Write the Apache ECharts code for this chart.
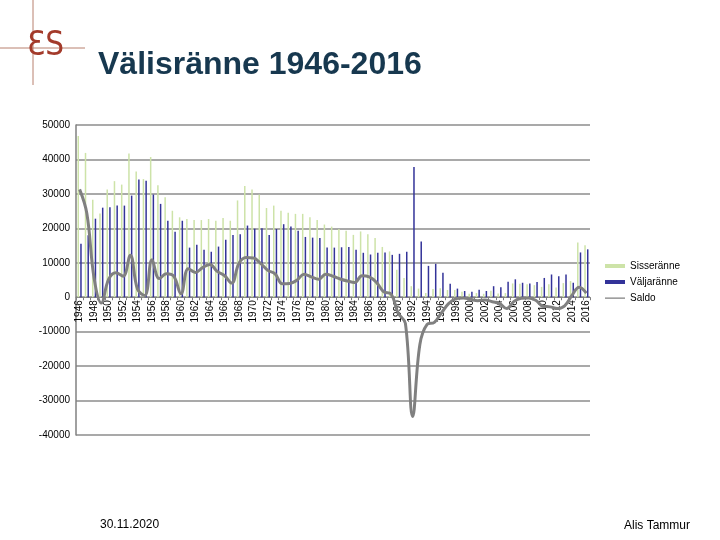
<!DOCTYPE html>
<html>
<head>
<meta charset="utf-8">
<script src="https://cdn.jsdelivr.net/npm/echarts@6/dist/echarts.min.js"></script>
<style>
    html, body { margin: 0; padding: 0; background: #fff; }
    #chart { width: 720px; height: 540px; }
</style>
</head>
<body>
<div id="chart"></div>
<script>
    // aastad
    var years = ['1946', '1947', '1948', '1949', '1950', '1951', '1952', '1953', '1954', '1955',
        '1956', '1957', '1958', '1959', '1960', '1961', '1962', '1963', '1964', '1965',
        '1966', '1967', '1968', '1969', '1970', '1971', '1972', '1973', '1974', '1975',
        '1976', '1977', '1978', '1979', '1980', '1981', '1982', '1983', '1984', '1985',
        '1986', '1987', '1988', '1989', '1990', '1991', '1992', '1993', '1994', '1995',
        '1996', '1997', '1998', '1999', '2000', '2001', '2002', '2003', '2004', '2005',
        '2006', '2007', '2008', '2009', '2010', '2011', '2012', '2013', '2014', '2015', '2016'];

    var sisseranne = [46800, 41900, 28300, 24300, 31300, 33700, 32700, 41700, 36500, 34300,
        40700, 32500, 29000, 25100, 23200, 22700, 22400, 22400, 22700, 22200,
        23000, 22200, 28100, 32300, 31300, 29800, 25900, 26600, 25100, 24500,
        24200, 24200, 23200, 22400, 21100, 20500, 19800, 19300, 18100, 19100,
        18300, 17200, 14600, 13300, 8000, 5600, 3200, 2500, 1200, 2400,
        2600, 2100, 2100, 1600, 1000, 1200, 1000, 1900, 1100, 1200,
        4000, 3900, 3800, 3500, 3000, 3800, 2800, 4100, 4700, 15900, 15100];

    var valjaranne = [15500, 18000, 22800, 26000, 26100, 26600, 26600, 29500, 34200, 33800,
        29800, 27100, 22200, 19000, 22200, 14400, 15200, 13800, 13200, 14700,
        16700, 18100, 18300, 20800, 19900, 20000, 18100, 19800, 21200, 20500,
        19300, 17500, 17300, 17200, 14400, 14400, 14500, 14600, 13800, 12900,
        12400, 12900, 13000, 12300, 12600, 13200, 37800, 16200, 9100, 9700,
        7100, 3900, 2500, 1800, 1600, 2200, 1800, 3200, 2900, 4500,
        5200, 4200, 4000, 4400, 5600, 6600, 6100, 6600, 4200, 13000, 13900];

    var saldo = [31300, 24300, 5500, -1700, 5200, 7100, 6100, 12200, 2300, 500,
        10900, 5400, 6800, 6100, 1000, 8300, 7200, 8600, 9500, 7500,
        6300, 4100, 9800, 11500, 11400, 9800, 7800, 6800, 3900, 4000,
        4900, 6700, 5900, 5200, 6700, 6100, 5300, 4700, 4300, 6200,
        5900, 4300, 1600, 1000, -4600, -7600, -34600, -13700, -7900, -7300,
        -4500, -1800, -400, -200, -600, -1000, -800, -1300, -1800, -3300,
        -1200, -300, -200, -900, -2600, -2800, -3300, -2500, 500, 2900, 1200];

    var chart = echarts.init(document.getElementById('chart'));

    // x-telg nulljoonel: grid 125..435, vahemik -40000..50000
    var gridTop = 125, gridBottom = 435;
    var zeroY = gridTop + (gridBottom - gridTop) * 50000 / 90000;

    var option = {
        backgroundColor: '#fff',
        animation: false,
        textStyle: { fontFamily: 'Liberation Sans, Arial, sans-serif' },
        graphic: [
            // logo rist
            { type: 'line', shape: { x1: 33, y1: 0, x2: 33, y2: 85 }, style: { stroke: '#b8806f', lineWidth: 1 } },
            { type: 'line', shape: { x1: 0, y1: 48, x2: 85, y2: 48 }, style: { stroke: '#b8806f', lineWidth: 1 } },
            {
                type: 'text', left: 27, top: 30,
                style: { text: 'ƐS', fill: '#a33a2a', font: '33px "Liberation Sans Narrow", "DejaVu Sans Condensed", sans-serif' }
            },
            {
                type: 'text', left: 98, top: 49,
                style: { text: 'Välisränne 1946-2016', fill: '#17384f', font: 'bold 32px "Liberation Sans", Arial' }
            },
            {
                type: 'text', left: 100, top: 519,
                style: { text: '30.11.2020', fill: '#000', font: '12px "Liberation Sans", Arial' }
            },
            {
                type: 'text', right: 30, top: 520,
                style: { text: 'Alis Tammur', fill: '#000', font: '12px "Liberation Sans", Arial' }
            }
        ],
        legend: {
            orient: 'vertical',
            left: 600,
            top: 256,
            itemWidth: 20,
            itemHeight: 4,
            itemGap: 6,
            textStyle: { fontSize: 10, color: '#000' },
            data: [
                { name: 'Sisseränne', icon: 'rect' },
                { name: 'Väljaränne', icon: 'rect' },
                { name: 'Saldo', icon: 'path://M0,0h0.1v0.1h-0.1z M0,1.4h20v1.4h-20z M19.9,3.9h0.1v0.1h-0.1z' }
            ]
        },
        grid: {
            left: 76,
            right: 130,
            top: gridTop,
            bottom: 540 - gridBottom
        },
        xAxis: {
            type: 'category',
            data: years,
            offset: zeroY - gridBottom,
            axisLine: { onZero: false, lineStyle: { color: '#808080', width: 1 } },
            axisTick: { show: true, interval: 0, length: 3, lineStyle: { color: '#808080' } },
            axisLabel: {
                interval: 1,
                rotate: 90,
                fontSize: 10,
                color: '#000',
                margin: 3
            },
            splitLine: { show: false }
        },
        yAxis: {
            type: 'value',
            min: -40000,
            max: 50000,
            interval: 10000,
            axisLine: { show: true, lineStyle: { color: '#808080', width: 1.5 } },
            axisTick: { show: false },
            axisLabel: {
                fontSize: 10, color: '#000', margin: 6,
                formatter: function (v) { return String(v); }
            },
            splitLine: { lineStyle: { color: '#8c8c8c', width: 1.5 } }
        },
        series: [
            {
                type: 'bar',
                name: 'Sisseränne',
                data: sisseranne,
                barWidth: 1.5,
                barGap: '80%',
                itemStyle: { color: '#cde3a8' }
            },
            {
                type: 'bar',
                name: 'Väljaränne',
                data: valjaranne,
                barWidth: 1.5,
                itemStyle: { color: '#333399' }
            },
            {
                type: 'line',
                name: 'Saldo',
                data: saldo,
                smooth: 0.4,
                symbol: 'none',
                z: 5,
                lineStyle: { color: '#808080', width: 3 },
                itemStyle: { color: '#808080' }
            }
        ]
    };

    chart.setOption(option);
</script>
</body>
</html>
